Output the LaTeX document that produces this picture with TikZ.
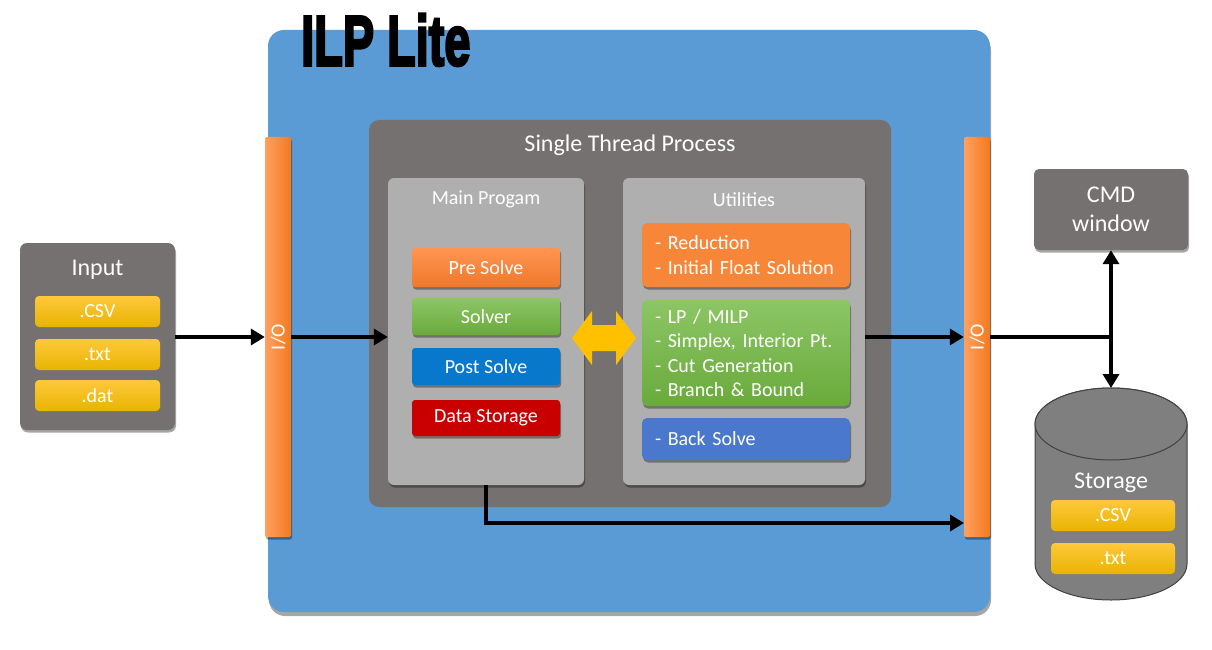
\documentclass[tikz,border=0pt]{standalone}
\usepackage{fontspec}
\setmainfont{Carlito}
\newfontfamily\titlefont[BoldFeatures={FakeBold=4}]{Liberation Sans}
\usetikzlibrary{arrows.meta,shadows}
\definecolor{ilpblue}{HTML}{5B9BD5}
\definecolor{pgray}{HTML}{767171}
\definecolor{lgray}{HTML}{AFAFAF}
\definecolor{orTop}{HTML}{FF9552}
\definecolor{orBot}{HTML}{F0782A}
\definecolor{orFlat}{HTML}{F78638}
\definecolor{grTop}{HTML}{8CC665}
\definecolor{grBot}{HTML}{6AAA3C}
\definecolor{blPost}{HTML}{0878CC}
\definecolor{rdData}{HTML}{C80000}
\definecolor{blBack}{HTML}{4A78CD}
\definecolor{ylTop}{HTML}{FFC83C}
\definecolor{ylBot}{HTML}{E8B400}
\definecolor{ioLeftC}{HTML}{FFA060}
\definecolor{ioRightC}{HTML}{F27A1E}
\definecolor{cylFill}{HTML}{7F7F7F}
\definecolor{cylLine}{HTML}{404040}
\definecolor{goldC}{HTML}{FFC000}
\tikzset{
  sh/.style={drop shadow={shadow xshift=1pt,shadow yshift=-2.5pt,opacity=0.35,fill=black}},
  bluepanel/.style={fill=ilpblue, rounded corners=16pt, drop shadow={shadow xshift=1pt,shadow yshift=-4pt,opacity=0.35,fill=black}},
  darkpanel/.style={fill=pgray, rounded corners=10pt},
  lightpanel/.style={fill=lgray, rounded corners=6pt, sh},
  btn/.style={rounded corners=3pt, text=white, sh, minimum width=148pt, inner sep=0pt},
  ubox/.style={rounded corners=5pt, text=white, sh, text width=182pt, inner xsep=13pt, align=left},
  tag/.style={rounded corners=4pt, top color=ylTop, bottom color=ylBot, text=white, minimum height=31pt, inner sep=0pt},
  iobar/.style={left color=ioLeftC, right color=ioRightC, rounded corners=2pt, minimum width=26pt, minimum height=400pt, inner sep=0pt, sh},
  ttl/.style={text=white, inner sep=0pt},
  graybox/.style={fill=pgray, rounded corners=7pt, sh},
  arr/.style={line width=4pt, -{Triangle[length=14pt,width=16pt]}},
  conn/.style={line width=4pt},
  arr2/.style={line width=4pt, {Triangle[length=14pt,width=16pt]}-{Triangle[length=14pt,width=16pt]}},
}
\begin{document}
\begin{tikzpicture}[x=1pt,y=-1pt, font=\fontsize{20}{24.5}\selectfont]
\useasboundingbox (0,0) rectangle (1212,650);
% main blue container
\node[bluepanel, minimum width=722pt, minimum height=582pt] (ilp) at (629,321) {};
\node[anchor=west, inner sep=0pt] (title) at (301,40) {\scalebox{0.66}[1]{\fontsize{71}{71}\selectfont\titlefont\bfseries ILP Lite}};
% single thread process
\node[darkpanel, minimum width=522pt, minimum height=387pt] (stp) at (630,313.5) {};
\node[ttl, font=\fontsize{24}{28}\selectfont] (stpT) at (630,145) {Single Thread Process};
% main program
\node[lightpanel, minimum width=196pt, minimum height=307pt] (main) at (486,331.5) {};
\node[ttl] (mainT) at (486,199.5) {Main Progam};
\node[btn, top color=orTop, bottom color=orBot, minimum height=39pt] (pre) at (486,267.5) {Pre Solve};
\node[btn, top color=grTop, bottom color=grBot, minimum height=37pt] (solver) at (486,316.5) {Solver};
\node[btn, fill=blPost, minimum height=37pt] (post) at (486,366.5) {Post Solve};
\node[btn, fill=rdData, minimum height=36pt] (data) at (486,418) {Data Storage};
% utilities
\node[lightpanel, minimum width=242pt, minimum height=307pt] (util) at (744,331.5) {};
\node[ttl] (utilT) at (744,199.5) {Utilities};
\node[ubox, fill=orFlat, minimum height=64pt] (red) at (746,255) {- Reduction\\- Initial Float Solution};
\node[ubox, top color=grTop, bottom color=grBot, minimum height=106pt] (lp) at (746,353) {- LP / MILP\\- Simplex, Interior Pt.\\- Cut Generation\\- Branch \& Bound};
\node[ubox, fill=blBack, minimum height=42pt] (back) at (746,439) {- Back Solve};
% double arrow between main program and utilities
\fill[goldC] (572,338) -- (592,311) -- (592,325) -- (616,325) -- (616,311) -- (636,338) -- (616,365) -- (616,351) -- (592,351) -- (592,365) -- cycle;
% I/O bars
\node[iobar] (ioL) at (278,337) {};
\node[ttl, rotate=90] (ioLT) at (278,337) {I/O};
\node[iobar] (ioR) at (977,337) {};
\node[ttl, rotate=90] (ioRT) at (977,337) {I/O};
% input
\node[graybox, minimum width=155pt, minimum height=187pt] (inp) at (97.5,336.5) {};
\node[ttl, font=\fontsize{24}{28}\selectfont] (inpT) at (97.5,270) {Input};
\node[tag, minimum width=125pt] (csv1) at (97.5,311.5) {.CSV};
\node[tag, minimum width=125pt] (txt1) at (97.5,354.5) {.txt};
\node[tag, minimum width=125pt] (dat1) at (97.5,395.5) {.dat};
% CMD window
\node[graybox, rounded corners=5pt, minimum width=154pt, minimum height=81pt, text=white, align=center, font=\fontsize{24}{29}\selectfont] (cmd) at (1111,209.5) {CMD\\window};
% storage cylinder
\filldraw[fill=cylFill, draw=cylLine, line width=1pt] (1035,424) -- (1035,564) arc[start angle=180, end angle=0, x radius=76, y radius=36] -- (1187,424) arc[start angle=0, end angle=-180, x radius=76, y radius=36] -- cycle;
\filldraw[fill=cylFill, draw=cylLine, line width=1pt] (1111,424) ellipse [x radius=76, y radius=36];
\coordinate (stor) at (1111,388);
\node[ttl, font=\fontsize{24}{28}\selectfont] (storT) at (1111,483) {Storage};
\node[tag, minimum width=124pt] (csv2) at (1113,515.5) {.CSV};
\node[tag, minimum width=124pt] (txt2) at (1113,558.5) {.txt};
% connectors
\draw[arr] (inp.east |- ioL.west) -- (ioL.west);
\draw[arr] (ioL.east) -- (ioL.east -| main.west);
\draw[arr] (ioR.west -| util.east) -- (ioR.west);
\coordinate (ioRlow) at (964,523);
\draw[arr] (main.south) |- (ioRlow);
\draw[conn] (ioR.east) -- (ioR.east -| cmd.south);
\draw[arr2] (cmd.south) -- (stor);
\end{tikzpicture}
\end{document}
